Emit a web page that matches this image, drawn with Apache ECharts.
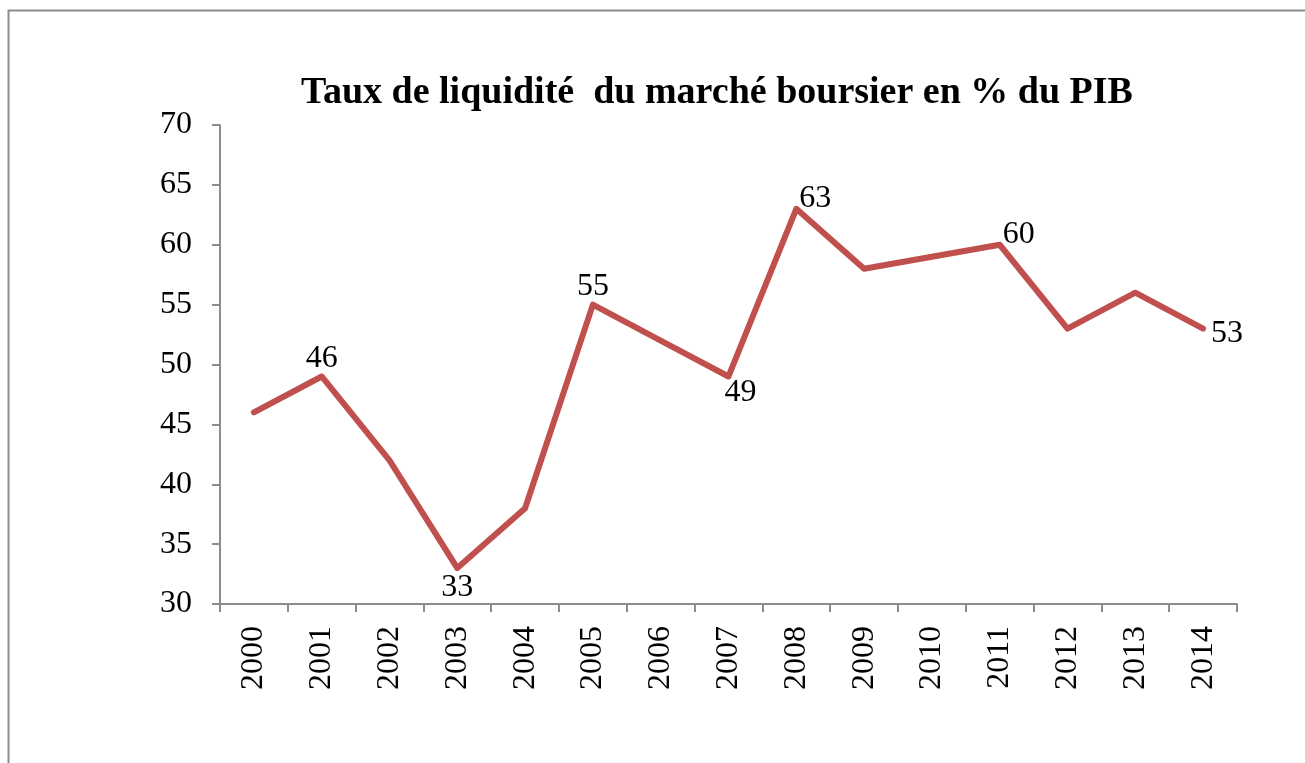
<!DOCTYPE html>
<html>
<head>
<meta charset="utf-8">
<script src="https://cdn.jsdelivr.net/npm/echarts@6/dist/echarts.min.js"></script>
<style>
  html, body { margin: 0; padding: 0; background: #fff; }
  #chart { width: 1305px; height: 763px; }
</style>
</head>
<body>
<div id="chart"></div>
<script>
// données
const years = ['2000', '2001', '2002', '2003', '2004', '2005', '2006', '2007',
  '2008', '2009', '2010', '2011', '2012', '2013', '2014']
const values = [46, 49, 42, 33, 38, 55, 52, 49, 63, 58, 59, 60, 53, 56, 53]
// étiquettes telles qu'affichées (celle de 2001 indique 46)
const labelTexts = ['', '46', '', '33', '', '55', '', '49', '63', '', '', '60', '', '', '53']
const labelPlace = ['', 'top', '', 'bottom', '', 'top', '', 'bottomRight', 'topRight', '', '', 'topRight', '', '', 'right']

const font = '"Liberation Serif", "Times New Roman", serif'

const placeStyle = {
  top: { position: 'top', distance: 0 },
  bottom: { position: 'bottom', distance: 2 },
  right: { position: 'right', distance: 6, offset: [0, 5] },
  bottomRight: { position: 'bottom', distance: -2, offset: [12, 0] },
  topRight: { position: 'top', distance: -4, offset: [19, 4] }
}

const seriesData = values.map((v, i) => {
  const item = { value: v }
  if (labelTexts[i]) {
    item.label = Object.assign({ show: true, formatter: labelTexts[i] }, placeStyle[labelPlace[i]])
  }
  return item
})

const chart = echarts.init(document.getElementById('chart'))

chart.setOption({
  animation: false,
  textStyle: { fontFamily: font },
  graphic: [{
    type: 'rect',
    shape: { x: 8.5, y: 10.5, width: 1400, height: 800 },
    style: { fill: 'none', stroke: '#8c8c8c', lineWidth: 2 },
    silent: true
  }],
  title: {
    text: 'Taux de liquidité  du marché boursier en % du PIB',
    left: 712,
    textAlign: 'center',
    top: 69,
    textStyle: { fontFamily: font, fontSize: 38, fontWeight: 'bold', color: '#000' }
  },
  grid: { left: 220, right: 68, top: 125, bottom: 159 },
  xAxis: {
    type: 'category',
    data: years,
    boundaryGap: true,
    axisLine: { lineStyle: { color: '#8c8c8c', width: 2 } },
    axisTick: { show: true, length: 8, lineStyle: { color: '#8c8c8c', width: 2 } },
    axisLabel: { rotate: 90, fontSize: 32, color: '#000', fontFamily: font, margin: 22, interval: 0 }
  },
  yAxis: {
    type: 'value',
    min: 30,
    max: 70,
    interval: 5,
    axisLine: { show: true, lineStyle: { color: '#8c8c8c', width: 2 } },
    axisTick: { show: true, length: 8, lineStyle: { color: '#8c8c8c', width: 2 } },
    splitLine: { show: false },
    axisLabel: { fontSize: 32, color: '#000', fontFamily: font, margin: 28 }
  },
  series: [{
    type: 'line',
    data: seriesData,
    symbol: 'circle',
    symbolSize: 4,
    showSymbol: true,
    lineStyle: { color: '#C0504D', width: 6, cap: 'round', join: 'round' },
    itemStyle: { color: '#C0504D' },
    label: { show: false, fontSize: 32, color: '#000', fontFamily: font }
  }]
})
</script>
</body>
</html>
